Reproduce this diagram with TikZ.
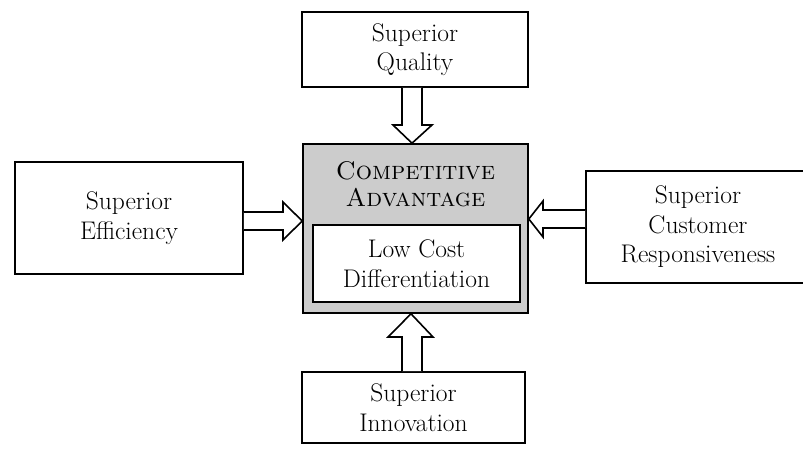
\documentclass[tikz,border=0pt]{standalone}
\usetikzlibrary{calc}
\begin{document}
\begin{tikzpicture}[x=1pt,y=-1pt,
  box/.style={draw=black,line width=1.6pt,fill=white,rectangle,inner sep=0pt,align=center,
    font=\fontsize{25.5}{29.5}\selectfont},
  shade/.style={draw=black,line width=1.6pt,fill=black!20,rectangle,inner sep=0pt},
  blockarrow/.style={draw=black,line width=1.6pt,fill=white,line join=miter}]
\useasboundingbox (0,0) rectangle (803,453);
% boxes
\node[box,minimum width=226pt,minimum height=75pt] (q) at (415,49.5) {Superior\\Quality};
\node[shade,minimum width=225pt,minimum height=169pt] (c) at (415.5,228.5) {};
\node[align=center,inner sep=0pt,font=\fontsize{25.5}{27}\selectfont] (ca) at (415.5,184) {\textsc{Competitive}\\\textsc{Advantage}};
\node[box,minimum width=207pt,minimum height=77pt] (in) at (416.5,263.5) {Low Cost\\Differentiation};
\node[box,minimum width=228pt,minimum height=112pt] (l) at (129,218) {Superior\\Efficiency};
\node[box,minimum width=224pt,minimum height=112pt] (r) at (698,227) {Superior\\Customer\\Responsiveness};
\node[box,minimum width=223pt,minimum height=71pt] (b) at (413.5,407.5) {Superior\\Innovation};
% top arrow
\draw[blockarrow] (q.south -| 402,0) -- (402,125) -- (393,125) -- (c.north -| 412,0) -- (432,125) -- (422,125) -- (q.south -| 422,0);
% bottom arrow
\draw[blockarrow] (b.north -| 402,0) -- (402,337) -- (388,337) -- (c.south -| 411,0) -- (433,337) -- (422,337) -- (b.north -| 422,0);
% left arrow
\draw[blockarrow] (l.east |- 0,212) -- (283,212) -- (283,202) -- (c.west |- 0,221) -- (283,240) -- (283,230) -- (l.east |- 0,230);
% right arrow
\draw[blockarrow] (r.west |- 0,210) -- (543,210) -- (543,201) -- (c.east |- 0,219) -- (543,237) -- (543,228) -- (r.west |- 0,228);
\end{tikzpicture}
\end{document}
